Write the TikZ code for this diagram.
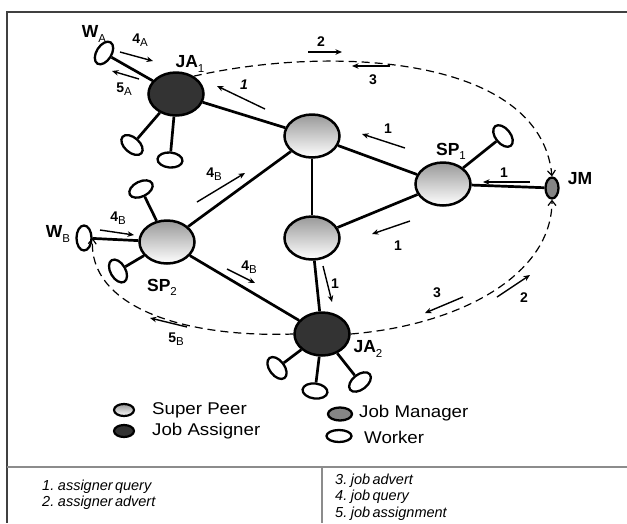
\documentclass[tikz,border=0pt]{standalone}
\usepackage{fontspec}
\setmainfont{Liberation Sans}
\newfontfamily\legendfont[FakeStretch=1.1]{Liberation Sans}
\usetikzlibrary{shapes.geometric,arrows.meta}
% small regular-weight subscript used in the labels
\newcommand\lsub[1]{\raisebox{-0.45ex}{\fontsize{11.5}{11.5}\selectfont\mdseries #1}}
% italic font with tight word spacing for the message key
\newcommand\keyfont{\fontsize{14.5}{14.5}\selectfont\itshape\spaceskip 0.16em\relax}

\begin{document}
\begin{tikzpicture}[x=1pt,y=-1pt,
  link/.style={line width=2.7pt},
  peer/.style={ellipse, draw, line width=2.5pt, minimum width=55pt, minimum height=43pt,
    inner sep=0pt, top color=black!40, bottom color=white},
  assigner/.style={ellipse, draw, line width=2.5pt, minimum width=55pt, minimum height=43pt,
    inner sep=0pt, fill=black!80},
  worker/.style={ellipse, draw, line width=2.3pt, minimum width=25pt, minimum height=15pt,
    inner sep=0pt, fill=white},
  manager/.style={ellipse, draw, line width=2.3pt, minimum width=13pt, minimum height=21pt,
    inner sep=0pt, fill=black!48},
  msg/.style={line width=1.4pt, -{Stealth[length=6.5pt,width=5.5pt]}},
  flow/.style={line width=1.2pt, dash pattern=on 8pt off 5pt,
    -{Straight Barb[length=5pt,width=8pt]}},
  num/.style={font=\fontsize{14}{14}\selectfont\bfseries, inner sep=0pt},
  nodetag/.style={font=\fontsize{17.5}{17.5}\selectfont\bfseries, inner sep=0pt},
  legtext/.style={font=\legendfont\fontsize{17}{17}\selectfont, anchor=west, inner sep=0pt},
  keytext/.style={font=\keyfont, anchor=west, inner sep=0pt},
  outline/.style={line width=1.4pt, black!75},
  divider/.style={line width=1.4pt, black!45},
]
\useasboundingbox (0,0) rectangle (627,523);

% ---------- frame ----------
\coordinate (tl) at (7,12);
\coordinate (tr) at (627,12);
\coordinate (bl) at (7,523);
\coordinate (ml) at (7,467);
\coordinate (mr) at (627,467);
\coordinate (dt) at (322,467);
\coordinate (db) at (322,523);
\draw[outline] (tr) -- (tl) -- (bl);
\draw[divider] (ml) -- (mr);
\draw[divider] (dt) -- (db);

% ---------- peers ----------
\node[peer] (spTop) at (312,136) {};
\node[peer] (spMid) at (312,238) {};
\node[peer] (sp1) at (443,184) {};
\node[peer] (sp2) at (167,242) {};
\node[assigner] (ja1) at (176,94) {};
\node[assigner] (ja2) at (322,334) {};
\node[manager] (jm) at (552,188) {};

% ---------- workers ----------
\node[worker, rotate=58] (wa) at (104,53) {};
\node[worker, rotate=-41] (w1a) at (132,145) {};
\node[worker, rotate=-5] (w1b) at (170,160) {};
\node[worker, rotate=-51] (w3) at (503,136) {};
\node[worker, rotate=26] (w2a) at (141,189) {};
\node[worker, rotate=-60] (w2b) at (118,271) {};
\node[worker, rotate=90] (wb) at (84,238) {};
\node[worker, rotate=-53] (w4a) at (277,368) {};
\node[worker, rotate=-7] (w4b) at (315,391) {};
\node[worker, rotate=38] (w4c) at (360,382) {};

% ---------- links ----------
\draw[link] (ja1) -- (wa);
\draw[link] (ja1) -- (w1a);
\draw[link] (ja1) -- (w1b);
\draw[link] (ja1) -- (spTop);
\draw[link] (spTop) -- (sp1);
\draw[link] (spTop) -- (spMid);
\draw[link] (spTop) -- (sp2);
\draw[link] (sp1) -- (spMid);
\draw[link] (sp1) -- (w3);
\draw[link] (sp1) -- (jm);
\draw[link] (spMid) -- (ja2);
\draw[link] (sp2) -- (wb);
\draw[link] (sp2) -- (w2a);
\draw[link] (sp2) -- (w2b);
\draw[link] (sp2) -- (ja2);
\draw[link] (ja2) -- (w4a);
\draw[link] (ja2) -- (w4b);
\draw[link] (ja2) -- (w4c);

% ---------- dashed flows ----------
\draw[flow] (ja1.45) .. controls (330,45) and (540,55) .. (jm.north);
\draw[flow] (ja2.east) .. controls (460,325) and (552,275) .. (jm.south);
\draw[flow] (ja2.west) .. controls (180,338) and (88,305) .. (wb.south);

% ---------- message arrows ----------
\coordinate (m4As) at (120,52);  \coordinate (m4Ae) at (153,61);
\coordinate (m5As) at (139,79);  \coordinate (m5Ae) at (112,71);
\coordinate (m1as) at (265,109); \coordinate (m1ae) at (217,86);
\coordinate (m2as) at (308,52);  \coordinate (m2ae) at (342,52);
\coordinate (m3as) at (390,66);  \coordinate (m3ae) at (352,66);
\coordinate (m1bs) at (405,148); \coordinate (m1be) at (362,134);
\coordinate (m1cs) at (530,182); \coordinate (m1ce) at (483,182);
\coordinate (m1ds) at (410,221); \coordinate (m1de) at (372,234);
\coordinate (m1es) at (323,266); \coordinate (m1ee) at (332,302);
\coordinate (m3bs) at (463,297); \coordinate (m3be) at (425,313);
\coordinate (m2bs) at (497,297); \coordinate (m2be) at (530,275);
\coordinate (m4Bas) at (197,202); \coordinate (m4Bae) at (245,173);
\coordinate (m4Bbs) at (100,230); \coordinate (m4Bbe) at (134,235);
\coordinate (m4Bcs) at (227,269); \coordinate (m4Bce) at (255,283);
\coordinate (m5Bs) at (187,327); \coordinate (m5Be) at (150,318);
\foreach \a in {4A,5A,1a,2a,3a,1b,1c,1d,1e,3b,2b,4Ba,4Bb,4Bc,5B}
  \draw[msg] (m\a s) -- (m\a e);

% ---------- message labels ----------
\node[num] at (140,40) {4\lsub{A}};
\node[num] at (124,89) {5\lsub{A}};
\node[num, font=\fontsize{14}{14}\selectfont\bfseries\itshape] at (244,85) {1};
\node[num] at (321,42) {2};
\node[num] at (373,80) {3};
\node[num] at (388,129) {1};
\node[num] at (504,173) {1};
\node[num] at (398,246) {1};
\node[num] at (335,284) {1};
\node[num] at (437,293) {3};
\node[num] at (524,298) {2};
\node[num] at (214,174) {4\lsub{B}};
\node[num] at (118,218) {4\lsub{B}};
\node[num] at (249,267) {4\lsub{B}};
\node[num] at (176,339) {5\lsub{B}};

% ---------- node names ----------
\node[nodetag] at (94,34) {W\lsub{A}};
\node[nodetag] at (190,64) {JA\lsub{1}};
\node[nodetag] at (451,151) {SP\lsub{1}};
\node[nodetag] at (580,179) {JM};
\node[nodetag] at (162,287) {SP\lsub{2}};
\node[nodetag] at (58,234) {W\lsub{B}};
\node[nodetag] at (368,349) {JA\lsub{2}};

% ---------- legend ----------
\node[peer, line width=2.2pt, minimum width=20pt, minimum height=12pt] (kSp) at (124,410) {};
\node[assigner, line width=2.2pt, minimum width=20pt, minimum height=12pt] (kJa) at (124,431) {};
\node[manager, minimum width=24pt, minimum height=13pt] (kJm) at (340,414) {};
\node[worker, minimum width=25pt, minimum height=12pt] (kW) at (339,436) {};
\node[legtext] at (152,410) {Super Peer};
\node[legtext] at (152,431) {Job Assigner};
\node[legtext] at (359,413) {Job Manager};
\node[legtext] at (364,437) {Worker};

% ---------- message key ----------
\node[keytext] at (42,487) {1. assigner query};
\node[keytext] at (42,503) {2. assigner advert};
\node[keytext] at (335,481) {3. job advert};
\node[keytext] at (335,497) {4. job query};
\node[keytext] at (335,514) {5. job assignment};
\end{tikzpicture}
\end{document}
